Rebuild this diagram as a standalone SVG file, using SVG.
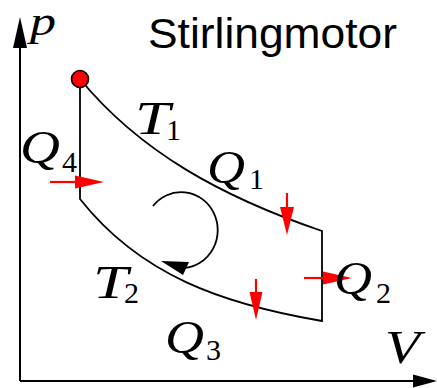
<svg xmlns="http://www.w3.org/2000/svg" width="437" height="388" viewBox="0 0 437 388">
<style>
.ax{stroke:#000;stroke-width:2;fill:none}
.cyc{stroke:#000;stroke-width:1.8;fill:none}
.rl{stroke:#f00;stroke-width:2.2;fill:none}
.rh{fill:#f00;stroke:none}
.m{font-family:"Liberation Serif","Times New Roman",serif;font-style:italic;font-size:46px;fill:#000}
.s{font-family:"Liberation Serif","Times New Roman",serif;font-size:30px;fill:#000}
.t{font-family:"Liberation Sans",Arial,sans-serif;font-size:42px;fill:#000}
</style>
<rect width="437" height="388" fill="#fff"/>
<g id="axes">
<path class="ax" d="M20,381 V46 M20,381 H415"/>
<polygon points="20,17 13,48 27,48" fill="#000"/>
<polygon points="437,381 413,374.5 413,387.5" fill="#000"/>
<text class="m" x="30" y="35" style="font-size:40px" textLength="26" lengthAdjust="spacingAndGlyphs">p</text>
<text class="m" x="385" y="363" textLength="35" lengthAdjust="spacingAndGlyphs">V</text>
</g>
<g id="title"><text class="t" x="148" y="47.5" textLength="249" lengthAdjust="spacingAndGlyphs">Stirlingmotor</text></g>
<g id="cycle">
<path class="cyc" d="M80,79 C140,152 222,197 322,231 V321 C222,304 140,275 80,199 Z"/>
<circle cx="80" cy="79" r="8.5" fill="#f00" stroke="#000" stroke-width="1.6"/>
</g>
<g id="rotation">
<path class="cyc" d="M153,206 A36.5 38 0 1 1 184,268"/>
<polygon points="161,261 189,262 183,275" fill="#000"/>
</g>
<g id="heat-arrows">
<path class="rl" d="M50,182 H76"/><polygon class="rh" points="104,182 75,175.5 75,188.5"/>
<path class="rl" d="M287,193 V208"/><polygon class="rh" points="287,235 280,207 294,207"/>
<path class="rl" d="M304,278 H324"/><polygon class="rh" points="352,278 323,271.5 323,284.5"/>
<path class="rl" d="M256,279 V293"/><polygon class="rh" points="256,320 249.5,292 262.5,292"/>
</g>
<g id="labels">
<text class="m" x="135" y="134" textLength="35" lengthAdjust="spacingAndGlyphs">T</text><text class="s" x="166" y="140">1</text>
<text class="m" x="20" y="163" textLength="40" lengthAdjust="spacingAndGlyphs">Q</text><text class="s" x="62" y="172">4</text>
<text class="m" x="207" y="183" textLength="38" lengthAdjust="spacingAndGlyphs">Q</text><text class="s" x="249" y="189">1</text>
<text class="m" x="334" y="294" textLength="38" lengthAdjust="spacingAndGlyphs">Q</text><text class="s" x="376" y="303">2</text>
<text class="m" x="93" y="298" textLength="35" lengthAdjust="spacingAndGlyphs">T</text><text class="s" x="124" y="303">2</text>
<text class="m" x="165" y="353" textLength="39" lengthAdjust="spacingAndGlyphs">Q</text><text class="s" x="206" y="360">3</text>
</g>
</svg>
